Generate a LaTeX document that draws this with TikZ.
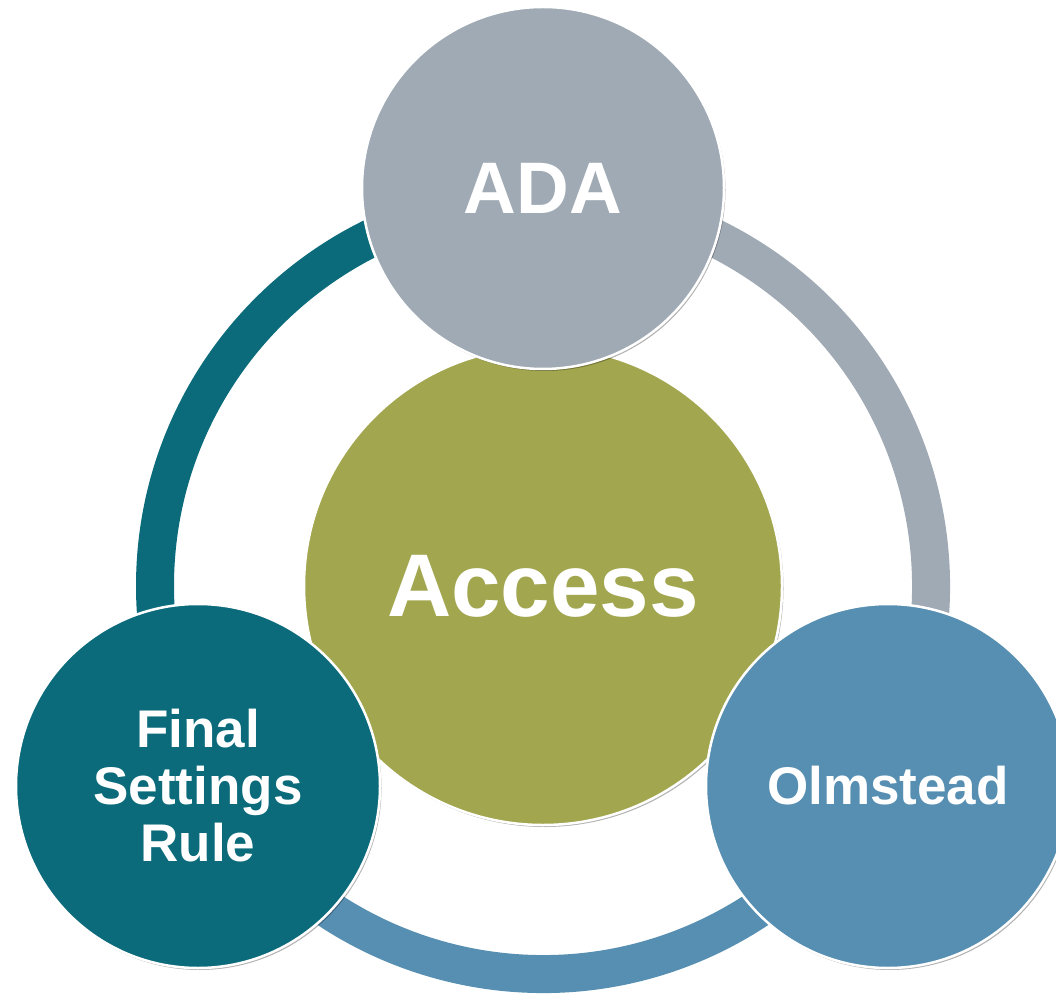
\documentclass[tikz,border=0pt]{standalone}
\usepackage{fontspec}
\setmainfont{Liberation Sans}
\usetikzlibrary{shadows}
\definecolor{adagray}{HTML}{A0AAB4}
\definecolor{accolive}{HTML}{A2A64E}
\definecolor{fsteal}{HTML}{0B6B7B}
\definecolor{olmblue}{HTML}{568FB1}
\tikzset{
  ringseg/.style={line width=38pt, line cap=butt},
  bubble/.style={circle, draw=white, line width=2.5pt, inner sep=0pt, text=white,
    font=\bfseries, align=center,
    drop shadow={shadow xshift=1.5pt, shadow yshift=-2pt, opacity=0.3, fill=black}},
}
\begin{document}
\begin{tikzpicture}[x=1pt, y=1pt]
\useasboundingbox (0,0) rectangle (1056,994);
\clip (0,0) rectangle (1056,994);
\coordinate (o) at (543,408);
% ring segments
\draw[ringseg, fsteal] (o) ++(90:388pt) arc[start angle=90, end angle=211, radius=388pt];
\draw[ringseg, adagray] (o) ++(-31:388pt) arc[start angle=-31, end angle=90, radius=388pt];
\draw[ringseg, olmblue] (o) ++(210:388pt) arc[start angle=210, end angle=330, radius=388pt];
% centre
\node[bubble, fill=accolive, minimum size=478pt, font=\fontsize{89}{96}\selectfont\bfseries] (access) at (o) {Access};
% satellites
\node[bubble, fill=adagray, minimum size=362pt, font=\fontsize{73}{80}\selectfont\bfseries] (ada) at (543,806) {ADA};
\node[bubble, fill=fsteal, minimum size=364pt, font=\fontsize{53}{57}\selectfont\bfseries] (fsr) at (198,208) {Final\\Settings\\Rule};
\node[bubble, fill=olmblue, minimum size=364pt, font=\fontsize{53}{57}\selectfont\bfseries] (olm) at (888,208) {Olmstead};
\end{tikzpicture}
\end{document}
